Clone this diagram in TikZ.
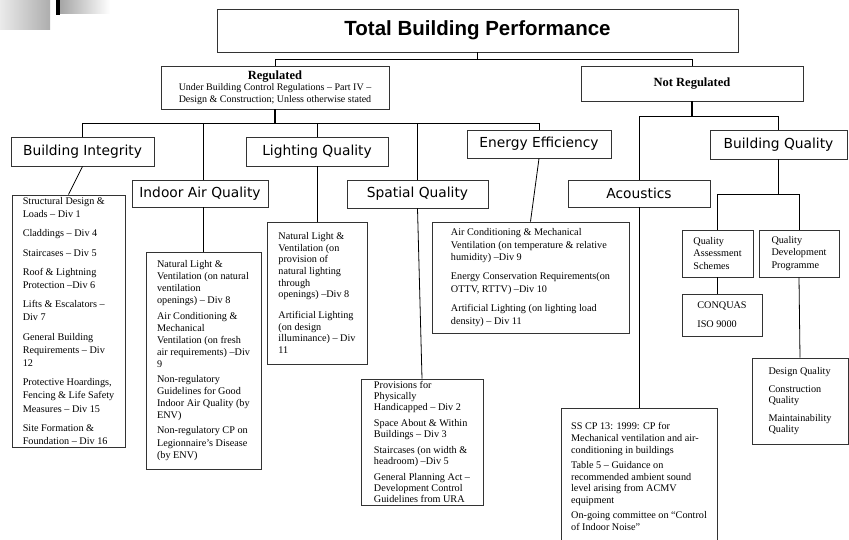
\documentclass[tikz,border=0pt]{standalone}
\usepackage{fontspec}
\setmainfont{Liberation Serif}
\newfontfamily\headfont{DejaVu Sans}
\newfontfamily\titlefont{Liberation Sans}

\newcommand{\gapsize}{6pt}
\newcommand{\gap}{\\[\gapsize]}

\tikzset{
  box/.style={draw=black!80,line width=0.9pt,inner sep=2pt},
  catbox/.style={box,font=\headfont\fontsize{13.8}{16}\selectfont},
  listbox/.style={box,align=left},
  leading/.style 2 args={font=\fontsize{10.2}{#1}\selectfont,
    execute at begin node={\renewcommand{\gapsize}{#2}}},
  link/.style={line width=0.8pt},
  stem/.style={line width=1.6pt},
}

\begin{document}
\begin{tikzpicture}[x=1pt,y=-1pt]

  \useasboundingbox (0,0) rectangle (849,539);
  \clip (0,0) rectangle (849,539);

  % Slide corner mark
  \shade[left color=black!8,right color=black!32] (0,0) rectangle (50,29);
  \fill[black] (56,0) rectangle (60,15);
  \shade[left color=black!35,right color=white] (60,0) rectangle (110,13);

  % Top level
  \node[box,minimum width=521pt,minimum height=43pt,
    font=\titlefont\bfseries\fontsize{20.5}{24}\selectfont]
    (title) at (477.5,30.5) {Total Building Performance};

  \node[box,align=center,minimum width=228pt,minimum height=43pt,
    font=\fontsize{10}{11.5}\selectfont]
    (reg) at (275,87.5)
    {{\fontsize{12.5}{14}\selectfont\bfseries Regulated}\\
     Under Building Control Regulations – Part IV –\\
     Design \& Construction; Unless otherwise stated};

  \node[box,minimum width=222pt,minimum height=35pt,
    font=\fontsize{12.5}{14}\selectfont\bfseries]
    (notreg) at (692,83.5) {Not Regulated};

  % Categories
  \node[catbox,minimum width=143pt,minimum height=29pt] (BI) at (82.5,151.5) {Building Integrity};
  \node[catbox,minimum width=142pt,minimum height=29pt] (LQ) at (317,151.5) {Lighting Quality};
  \node[catbox,minimum width=136pt,minimum height=27pt] (IAQ) at (200,193.5) {Indoor Air Quality};
  \node[catbox,minimum width=141pt,minimum height=28pt] (SQ) at (417.5,194) {Spatial Quality};
  \node[catbox,minimum width=144pt,minimum height=28pt] (EE) at (539,144) {Energy Efficiency};
  \node[catbox,minimum width=142pt,minimum height=27pt] (AC) at (639,193.5) {Acoustics};
  \node[catbox,minimum width=137pt,minimum height=29pt] (BQ) at (778.5,144.5) {Building Quality};

  % Regulated lists
  \node[listbox,leading={13.2}{6pt},minimum width=113pt,minimum height=252pt] (BIlist) at (68.5,321)
    {Structural Design \&\\ Loads – Div 1\gap
     Claddings – Div 4\gap
     Staircases – Div 5\gap
     Roof \& Lightning\\ Protection –Div 6\gap
     Lifts \& Escalators –\\ Div 7\gap
     General Building\\ Requirements – Div\\ 12\gap
     Protective Hoardings,\\ Fencing \& Life Safety\\ Measures – Div 15\gap
     Site Formation \&\\ Foundation – Div 16};

  \node[listbox,leading={12.1}{3pt},minimum width=115pt,minimum height=217pt] (IAQlist) at (203.5,360.5)
    {Natural Light \&\\ Ventilation (on natural\\ ventilation\\ openings) – Div 8\gap
     Air Conditioning \&\\ Mechanical\\ Ventilation (on fresh\\ air requirements) –Div\\ 9\gap
     Non-regulatory\\ Guidelines for Good\\ Indoor Air Quality (by\\ ENV)\gap
     Non-regulatory CP on\\ Legionnaire’s Disease\\ (by ENV)};

  \node[listbox,leading={11.7}{9pt},minimum width=100pt,minimum height=142pt] (LQlist) at (317,293)
    {Natural Light \&\\ Ventilation (on\\ provision of\\ natural lighting\\ through\\ openings) –Div 8\gap
     Artificial Lighting\\ (on design\\ illuminance) – Div\\ 11};

  \node[listbox,leading={11}{5pt},minimum width=122pt,minimum height=126pt] (SQlist) at (422,442)
    {Provisions for\\ Physically\\ Handicapped – Div 2\gap
     Space About \& Within\\ Buildings – Div 3\gap
     Staircases (on width \&\\ headroom) –Div 5\gap
     General Planning Act –\\ Development Control\\ Guidelines from URA};

  \node[listbox,leading={12.4}{7pt},minimum width=197pt,minimum height=111pt] (EElist) at (530.5,277.5)
    {Air Conditioning \& Mechanical\\ Ventilation (on temperature \& relative\\ humidity) –Div 9\gap
     Energy Conservation Requirements(on\\ OTTV, RTTV) –Div 10\gap
     Artificial Lighting (on lighting load\\ density) – Div 11};

  % Not regulated lists
  \node[listbox,leading={11.7}{3.3pt},minimum width=156pt,minimum height=137pt] (AClist) at (639,476.5)
    {SS CP 13: 1999: CP for\\ Mechanical ventilation and air-\\ conditioning in buildings\gap
     Table 5 – Guidance on\\ recommended ambient sound\\ level arising from ACMV\\ equipment\gap
     On-going committee on “Control\\ of Indoor Noise”};

  \node[listbox,leading={12.6}{0pt},minimum width=71pt,minimum height=47pt] (QAS) at (717.5,253.5)
    {Quality\\ Assessment\\ Schemes};
  \node[listbox,leading={12.6}{0pt},minimum width=80pt,minimum height=47pt] (QDP) at (799,253.5)
    {Quality\\ Development\\ Programme};
  \node[listbox,leading={12}{7pt},minimum width=80pt,minimum height=42pt] (CONQ) at (722,315)
    {CONQUAS\gap ISO 9000};
  \node[listbox,leading={11}{7pt},minimum width=96pt,minimum height=86pt] (DQ) at (800,401)
    {Design Quality\gap Construction\\ Quality\gap Maintainability\\ Quality};

  % Top connectors
  \draw[link] (title.south) -- ++(0,7) coordinate (tbus);
  \draw[link] (reg.north) |- (tbus) -| (notreg.north);

  % Regulated branch
  \draw[stem] (reg.south) -- ++(0,14) coordinate (rbus);
  \draw[link] (BI.north) |- (rbus) -| (EE.north);
  \draw[link] (IAQlist.north |- rbus) -- (IAQlist.north |- IAQ.north);
  \foreach \n in {LQ,SQ}
    \draw[link] (\n.north |- rbus) -- (\n.north);

  \draw[link] (BI.south) -- (BIlist.north);
  \draw[link] (IAQlist.north |- IAQ.south) -- (IAQlist.north);
  \draw[link] (LQ.south) -- (LQlist.north);
  \draw[link] (SQ.south) -- (SQlist.north);
  \draw[link] (EE.south) -- (EElist.north);

  % Not regulated branch
  \draw[stem] (notreg.south) -- ++(0,15) coordinate (nbus);
  \draw[link] (AC.north) |- (nbus) -| (BQ.north);
  \draw[link] (AC.south) -- (AClist.north);

  \draw[link] (BQ.south) -- ++(0,35) coordinate (qbus);
  \draw[link] (QAS.north) |- (qbus) -| (QDP.north);
  \draw[link] (QAS.south) -- (QAS.south |- CONQ.north);
  \draw[link] (QDP.south) -- (DQ.north);

\end{tikzpicture}
\end{document}
